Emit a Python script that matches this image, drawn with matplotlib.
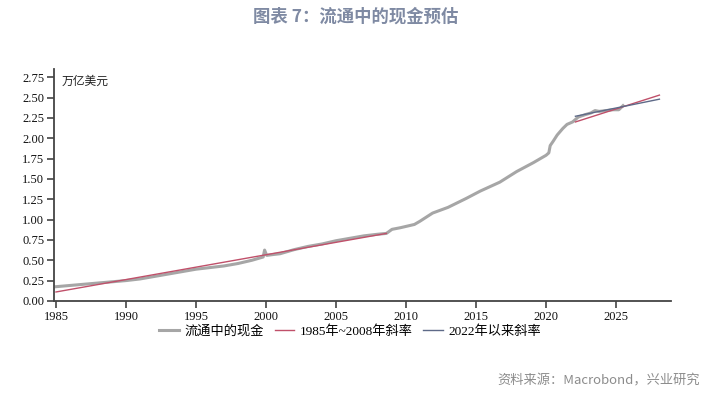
import matplotlib
matplotlib.use('Agg')
import matplotlib.pyplot as plt
import numpy as np

# currency in circulation (trillion USD)
cash_year = [1985.0, 1986.0, 1987.0, 1988.0, 1989.0, 1990.0, 1991.0, 1992.0, 1993.0, 1994.0,
             1995.0, 1996.0, 1997.0, 1998.0, 1999.0, 1999.8, 1999.9, 2000.05, 2000.5, 2001.0,
             2002.0, 2003.0, 2004.0, 2005.0, 2006.0, 2007.0, 2008.0, 2008.6, 2009.0, 2009.6,
             2010.6, 2011.0, 2011.9, 2013.0, 2014.3, 2015.3, 2016.7, 2017.9, 2019.1, 2020.0,
             2020.2, 2020.3, 2020.5, 2020.8, 2021.2, 2021.5, 2021.9, 2022.3, 2022.8, 2023.2,
             2023.5, 2023.8, 2024.3, 2024.8, 2025.2, 2025.5]
cash_val = [0.175, 0.19, 0.205, 0.22, 0.235, 0.25, 0.27, 0.30, 0.33, 0.36,
            0.39, 0.41, 0.43, 0.46, 0.50, 0.54, 0.625, 0.56, 0.57, 0.58,
            0.63, 0.67, 0.70, 0.74, 0.77, 0.80, 0.82, 0.83, 0.88, 0.90,
            0.94, 0.98, 1.08, 1.15, 1.26, 1.35, 1.46, 1.59, 1.70, 1.79,
            1.82, 1.91, 1.96, 2.04, 2.12, 2.17, 2.20, 2.26, 2.29, 2.31,
            2.34, 2.33, 2.34, 2.35, 2.35, 2.40]

# trend lines
red_year = [1985.0, 2008.6, np.nan, 2022.1, 2028.1]
red_val = [0.11, 0.83, np.nan, 2.20, 2.53]
blue_year = [2022.1, 2028.1]
blue_val = [2.27, 2.48]

xticks = [1985, 1990, 1995, 2000, 2005, 2010, 2015, 2020, 2025]
yticks = [0.0, 0.25, 0.5, 0.75, 1.0, 1.25, 1.5, 1.75, 2.0, 2.25, 2.5, 2.75]

cjk = ['Noto Sans CJK SC', 'DejaVu Sans']
mixed = ['Liberation Serif', 'Noto Sans CJK SC']

fig = plt.figure(figsize=(7.25, 3.97), dpi=100)
ax = fig.add_axes([0.0745, 0.242, 0.8505, 0.584])

ax.plot(cash_year, cash_val, color='#A6A6A6', lw=2.2, label='流通中的现金', zorder=2)
ax.plot(red_year, red_val, color='#C0506A', lw=1.0, label='1985年~2008年斜率', zorder=3)
ax.plot(blue_year, blue_val, color='#5E6A88', lw=1.0, label='2022年以来斜率', zorder=3)

ax.set_xlim(1984.86, 2028.9)
ax.set_ylim(0, 2.85)
ax.set_xticks(xticks)
ax.set_yticks(yticks)
ax.set_yticklabels(['%.2f' % v for v in yticks])
for lab in ax.get_xticklabels() + ax.get_yticklabels():
    lab.set_family('Liberation Serif')
    lab.set_fontsize(9)
    lab.set_color('#111111')
ax.tick_params(direction='out', length=5, width=1.2, color='#444444', pad=2)
for s in ['top', 'right']:
    ax.spines[s].set_visible(False)
for s in ['left', 'bottom']:
    ax.spines[s].set_color('#444444')
    ax.spines[s].set_linewidth(1.3)

ax.text(0.012, 0.975, '万亿美元', transform=ax.transAxes, fontsize=8.5,
        family=cjk, color='#222222', va='top', ha='left', style='italic')

fig.legend(loc='center', bbox_to_anchor=(0.483, 0.165), ncol=3, frameon=False,
           prop={'family': mixed, 'size': 9.5}, handlelength=1.5, handletextpad=0.4,
           columnspacing=0.8)

fig.text(0.49, 0.957, '图表 7：流通中的现金预估', ha='center', va='center',
         fontsize=12.5, fontweight='bold', color='#7F8AA3', family=cjk)
fig.text(0.965, 0.04, '资料来源：Macrobond，兴业研究', ha='right', va='center',
         fontsize=9.5, color='#8C8C8C', family=cjk)

fig.savefig('out.png', dpi=100)
